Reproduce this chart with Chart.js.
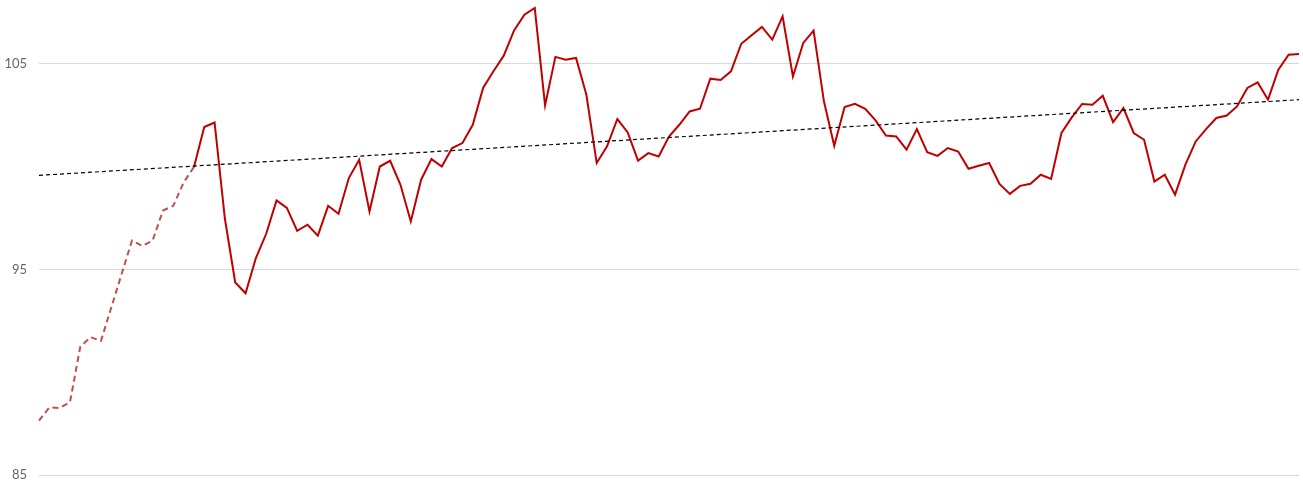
<!DOCTYPE html>
<html>
<head>
<meta charset="utf-8">
<script src="https://cdn.jsdelivr.net/npm/chart.js@4"></script>
<style>
  html, body { margin: 0; padding: 0; background: #fff; }
  #wrap { width: 1303px; height: 486px; position: relative; }
</style>
</head>
<body>
<div id="wrap"><canvas id="chart-index"></canvas></div>
<script>
// dashed part (earlier history), last value is shared with the solid line
const history = [
  87.64, 88.29, 88.26, 88.54, 91.24, 91.70, 91.52, 93.15,
  94.77, 96.40, 96.14, 96.40, 97.86, 98.09, 99.22, 99.97
];

// solid part, starts at the last history point
const actual = [
  99.97, 101.92, 102.14, 97.46, 94.36, 93.84, 95.55, 96.73, 98.35, 97.99,
  96.87, 97.17, 96.64, 98.09, 97.70, 99.44, 100.33, 97.81, 100.00, 100.28,
  99.11, 97.33, 99.36, 100.36, 100.00, 100.90, 101.14, 102.03, 103.82, 104.63,
  105.39, 106.62, 107.38, 107.71, 102.97, 105.33, 105.19, 105.28, 103.49, 100.17,
  100.98, 102.31, 101.66, 100.29, 100.65, 100.49, 101.46, 102.03, 102.68, 102.81,
  104.27, 104.21, 104.63, 105.97, 106.38, 106.79, 106.17, 107.30, 104.38, 106.01,
  106.61, 103.17, 101.01, 102.89, 103.05, 102.81, 102.24, 101.51, 101.46, 100.82,
  101.82, 100.70, 100.52, 100.90, 100.73, 99.89, 100.04, 100.17, 99.15, 98.67,
  99.06, 99.16, 99.60, 99.40, 101.63, 102.39, 103.04, 103.00, 103.44, 102.16,
  102.84, 101.63, 101.30, 99.27, 99.60, 98.63, 100.09, 101.22, 101.82, 102.36,
  102.48, 102.92, 103.82, 104.09, 103.25, 104.71, 105.44, 105.47
];

// linear trend, value at first and last period
const trendEnds = [99.57, 103.25];

const yTicks = [85, 95, 105];

// build the full series
const total = history.length + actual.length - 1;
const labels = [];
for (let i = 0; i < total; i++) labels.push(String(i + 1));

const dashedData = history.concat(new Array(total - history.length).fill(null));
const solidData = new Array(history.length - 1).fill(null).concat(actual);
const trendData = [
  { x: labels[0], y: trendEnds[0] },
  { x: labels[total - 1], y: trendEnds[1] }
];

const ctx = document.getElementById("chart-index").getContext("2d");
new Chart(ctx, {
  type: "line",
  data: {
    labels: labels,
    datasets: [
      {
        label: "Trend",
        data: trendData,
        borderColor: "#000000",
        borderWidth: 1.2,
        borderDash: [4, 3],
        pointRadius: 0,
        fill: false,
      },
      {
        label: "Index",
        data: solidData,
        borderColor: "#C00000",
        borderWidth: 2,
        pointRadius: 0,
        tension: 0,
        fill: false,
      },
      {
        label: "History",
        data: dashedData,
        borderColor: "#C0504D",
        borderWidth: 2,
        borderDash: [6, 4],
        pointRadius: 0,
        tension: 0,
        fill: false,
      },
    ],
  },
  options: {
    responsive: true,
    maintainAspectRatio: false,
    animation: false,
    layout: { padding: { top: 2, right: 4, bottom: 11, left: 0 } },
    plugins: {
      legend: { display: false },
      tooltip: { enabled: false },
    },
    scales: {
      x: {
        display: false,
      },
      y: {
        min: 85,
        max: 108,
        afterBuildTicks: (scale) => {
          scale.ticks = yTicks.map((v) => ({ value: v }));
        },
        afterFit: (scale) => {
          scale.width = 39;
          // no extra room for half labels, layout padding handles it
          scale.paddingTop = 0;
          scale.paddingBottom = 0;
        },
        border: { display: false },
        grid: {
          color: "#d9d9d9",
          lineWidth: 1,
          drawTicks: false,
        },
        ticks: {
          padding: 12,
          color: "#666666",
          font: { family: "Lato", size: 13 },
        },
      },
    },
  },
});
</script>
</body>
</html>
